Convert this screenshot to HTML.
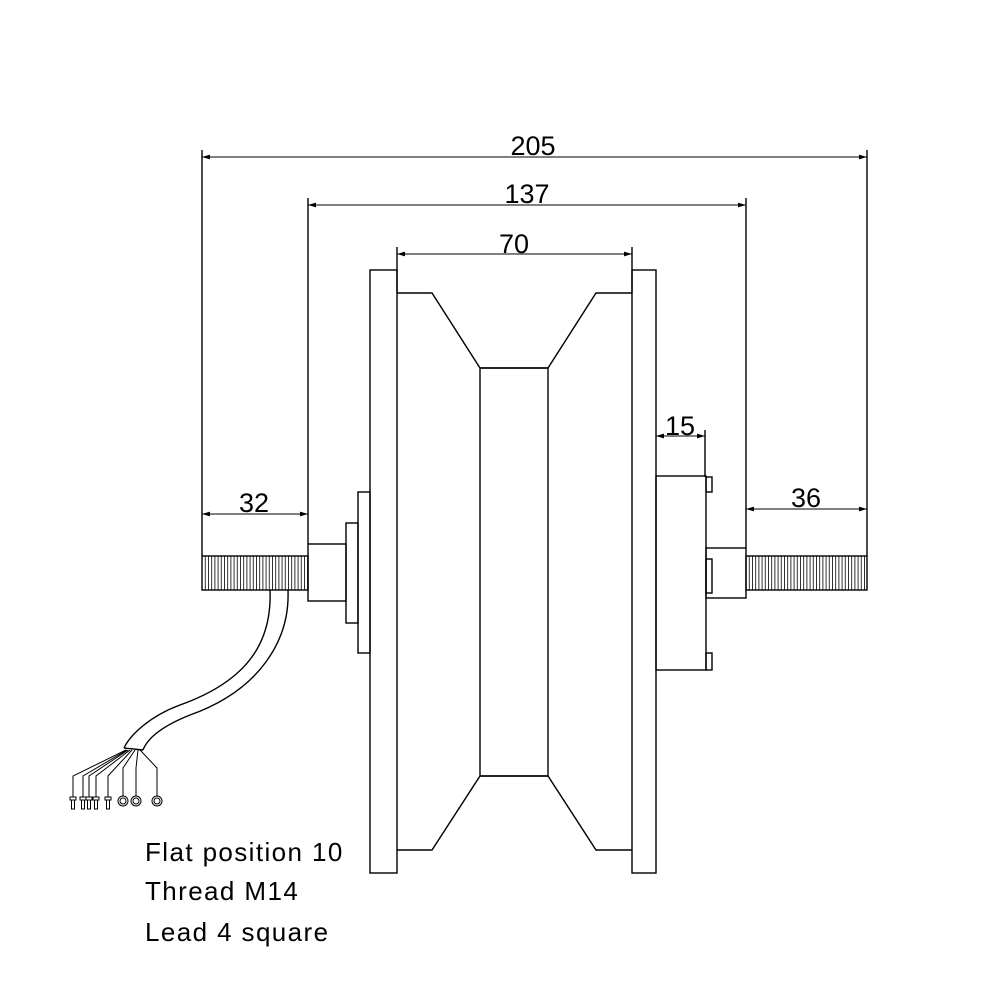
<!DOCTYPE html>
<html><head><meta charset="utf-8"><style>
html,body{margin:0;padding:0;background:#fff}
svg{display:block}
text{font-family:"Liberation Sans",sans-serif}
</style></head><body>
<svg width="1000" height="1000" viewBox="0 0 1000 1000" xmlns="http://www.w3.org/2000/svg">
<defs>
<pattern id="kn" width="3.2" height="40" patternUnits="userSpaceOnUse"><line x1="0.5" y1="0" x2="0.5" y2="40" stroke="#000" stroke-width="0.8"/></pattern>
<marker id="a" viewBox="0 0 10 6" refX="10" refY="3" markerWidth="8" markerHeight="5" orient="auto-start-reverse"><path d="M0,0 L10,3 L0,6z" fill="#000"/></marker>
</defs>
<g fill="none" stroke="#000" stroke-width="1.4">
<line x1="202" y1="150" x2="202" y2="556"/>
<line x1="867" y1="150" x2="867" y2="556"/>
<line x1="308" y1="198" x2="308" y2="544"/>
<line x1="746" y1="198" x2="746" y2="548"/>
<line x1="397" y1="247" x2="397" y2="293"/>
<line x1="632" y1="247" x2="632" y2="293"/>
<line x1="705" y1="430" x2="705" y2="477"/>
<line x1="202" y1="157" x2="867" y2="157" marker-start="url(#a)" marker-end="url(#a)" stroke-width="1"/>
<line x1="308" y1="205" x2="746" y2="205" marker-start="url(#a)" marker-end="url(#a)" stroke-width="1"/>
<line x1="397" y1="254" x2="632" y2="254" marker-start="url(#a)" marker-end="url(#a)" stroke-width="1"/>
<line x1="656" y1="436" x2="705" y2="436" marker-start="url(#a)" marker-end="url(#a)" stroke-width="1"/>
<line x1="202" y1="514" x2="308" y2="514" marker-start="url(#a)" marker-end="url(#a)" stroke-width="1"/>
<line x1="746" y1="509" x2="867" y2="509" marker-start="url(#a)" marker-end="url(#a)" stroke-width="1"/>
<rect x="202" y="556" width="106" height="34" fill="url(#kn)"/>
<rect x="746" y="556" width="121" height="34" fill="url(#kn)"/>
<rect x="308" y="544" width="38" height="57"/>
<rect x="346" y="523" width="12" height="100"/>
<rect x="358" y="492" width="12" height="161"/>
<rect x="370" y="270" width="27" height="603"/>
<rect x="632" y="270" width="24" height="603"/>
<path d="M397,293 H432 L480,368 H548 L596,293 H632"/>
<path d="M397,850 H432 L480,776 H548 L596,850 H632"/>
<rect x="480" y="368" width="68" height="408"/>
<rect x="656" y="476" width="50" height="194"/>
<rect x="706" y="477" width="6" height="15"/>
<rect x="706" y="559" width="6" height="34"/>
<rect x="706" y="653" width="6" height="17"/>
<rect x="706" y="548" width="40" height="50"/>
<path d="M270,590 C272,640 250,680 180,705 C150,716 130,735 124,748"/>
<path d="M288,590 C290,640 260,690 190,715 C165,725 148,737 143,750"/>
<line x1="124" y1="748" x2="143" y2="750"/>
<g stroke-width="1">
<path d="M126,750 L73,776 V797"/>
<path d="M127,750 L83,776 V797"/>
<path d="M128,750 L89,776 V797"/>
<path d="M130,750 L96,776 V797"/>
<path d="M132,750 L108,776 V797"/>
<path d="M135,750 L123,768 V796"/>
<path d="M138,750 L136,768 V796"/>
<path d="M140,750 L157,768 V796"/>
<rect x="70" y="797" width="6" height="3"/><rect x="71.5" y="800" width="3" height="9"/>
<rect x="80" y="797" width="6" height="3"/><rect x="81.5" y="800" width="3" height="9"/>
<rect x="86" y="797" width="6" height="3"/><rect x="87.5" y="800" width="3" height="9"/>
<rect x="93" y="797" width="6" height="3"/><rect x="94.5" y="800" width="3" height="9"/>
<rect x="105" y="797" width="6" height="3"/><rect x="106.5" y="800" width="3" height="9"/>
<circle cx="123" cy="801" r="5"/><circle cx="123" cy="801" r="3"/>
<circle cx="136" cy="801" r="5"/><circle cx="136" cy="801" r="3"/>
<circle cx="157" cy="801" r="5"/><circle cx="157" cy="801" r="3"/>
</g>
</g>
<g font-size="27" fill="#000" text-anchor="middle">
<text x="533" y="155">205</text>
<text x="527" y="203">137</text>
<text x="514" y="253">70</text>
<text x="680" y="435">15</text>
<text x="254" y="512">32</text>
<text x="806" y="507">36</text>
</g>
<g font-size="26" fill="#000" letter-spacing="1.4">
<text x="145" y="861">Flat position 10</text>
<text x="145" y="900">Thread M14</text>
<text x="145" y="941">Lead 4 square</text>
</g>
</svg>
</body></html>
